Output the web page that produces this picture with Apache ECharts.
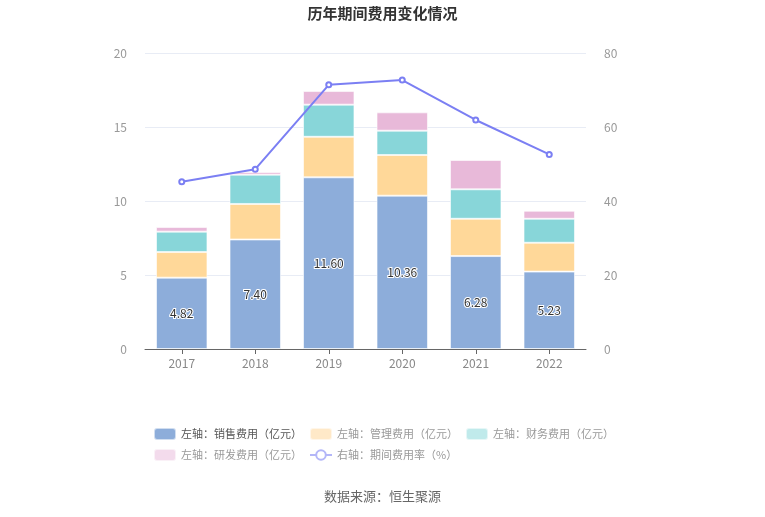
<!DOCTYPE html>
<html>
<head>
<meta charset="utf-8">
<script src="https://cdn.jsdelivr.net/npm/echarts@6/dist/echarts.min.js"></script>
<style>html,body{margin:0;padding:0;background:#fff;}#c{width:765px;height:517px;}</style>
</head>
<body>
<div id="c"></div>
<script>
var years = ['2017', '2018', '2019', '2020', '2021', '2022'];
var sales = [4.82, 7.40, 11.60, 10.36, 6.28, 5.23];
var mgmt = [1.73, 2.40, 2.74, 2.75, 2.52, 1.95];
var finance = [1.38, 1.98, 2.17, 1.64, 1.99, 1.62];
var rnd = [0.31, 0.18, 0.92, 1.24, 1.98, 0.54];
var rate = [45.2, 48.6, 71.4, 72.7, 61.9, 52.6];
var leftTicks = [0, 5, 10, 15, 20];
var rightTicks = [0, 20, 40, 60, 80];

var names = ['左轴：销售费用（亿元）', '左轴：管理费用（亿元）', '左轴：财务费用（亿元）', '左轴：研发费用（亿元）', '右轴：期间费用率（%）'];
var colors = ['#8DADDA', '#FFD899', '#88D6D9', '#E8B9D9', '#7B7FF3'];
var legendColors = ['#8DADDA', '#FFE9C8', '#C0EAEB', '#F3DBEC', '#B3B6F8'];

var chart = echarts.init(document.getElementById('c'), null, {renderer: 'canvas'});
function barSeries(i, data, label) {
  return {
    name: names[i], type: 'bar', stack: 'a', yAxisIndex: 0, data: data,
    barWidth: '70%',
    itemStyle: {color: colors[i], borderColor: 'rgba(255,255,255,0.6)', borderWidth: 1},
    label: label ? {show: true, position: 'inside', color: '#333', fontSize: 12,
      textBorderColor: '#fff', textBorderWidth: 2,
      formatter: function (p) { return p.value.toFixed(2); }} : {show: false}
  };
}
chart.setOption({
  animation: false,
  title: {text: '历年期间费用变化情况', left: 'center', top: 1,
    textStyle: {fontSize: 15, fontWeight: 'bold', color: '#333', fontFamily: 'Noto Sans CJK SC'}},
  graphic: [{type: 'text', left: 'center', top: 490,
    style: {text: '数据来源：恒生聚源', fontSize: 13, fill: '#666', fontFamily: 'Noto Sans CJK SC'}}],
  textStyle: {fontFamily: 'Noto Sans CJK SC'},
  grid: {left: 145, right: 179, top: 53, bottom: 168},
  legend: {
    left: 148, top: 422, width: 480, itemWidth: 22, itemHeight: 12, itemGap: 7,
    textStyle: {fontSize: 11, color: '#999'},
    data: names.map(function (n, i) {
      var d = {name: n, itemStyle: {color: legendColors[i]}};
      if (i === 0) d.textStyle = {color: '#555'};
      if (i === 4) { d.lineStyle = {color: legendColors[i], width: 2}; d.itemStyle = {color: legendColors[i], borderColor: legendColors[i], borderWidth: 2}; }
      return d;
    })
  },
  xAxis: {type: 'category', data: years,
    axisLine: {lineStyle: {color: '#666'}}, axisTick: {show: true, alignWithLabel: true, lineStyle: {color: '#666'}},
    axisLabel: {color: '#888', fontSize: 12, margin: 8}},
  yAxis: [
    {type: 'value', min: 0, max: 20, interval: 5,
      axisLabel: {color: '#999', fontSize: 12, margin: 18},
      splitLine: {lineStyle: {color: '#E8ECF5'}}, axisLine: {show: false}, axisTick: {show: false}},
    {type: 'value', min: 0, max: 80, interval: 20,
      axisLabel: {color: '#999', fontSize: 12, margin: 18},
      splitLine: {show: false}, axisLine: {show: false}, axisTick: {show: false}}
  ],
  series: [
    barSeries(0, sales, true),
    barSeries(1, mgmt, false),
    barSeries(2, finance, false),
    barSeries(3, rnd, false),
    {name: names[4], type: 'line', yAxisIndex: 1, data: rate,
      symbol: 'emptyCircle', symbolSize: 5,
      itemStyle: {color: colors[4]}, lineStyle: {color: colors[4], width: 2}}
  ]
});
</script>
</body>
</html>
